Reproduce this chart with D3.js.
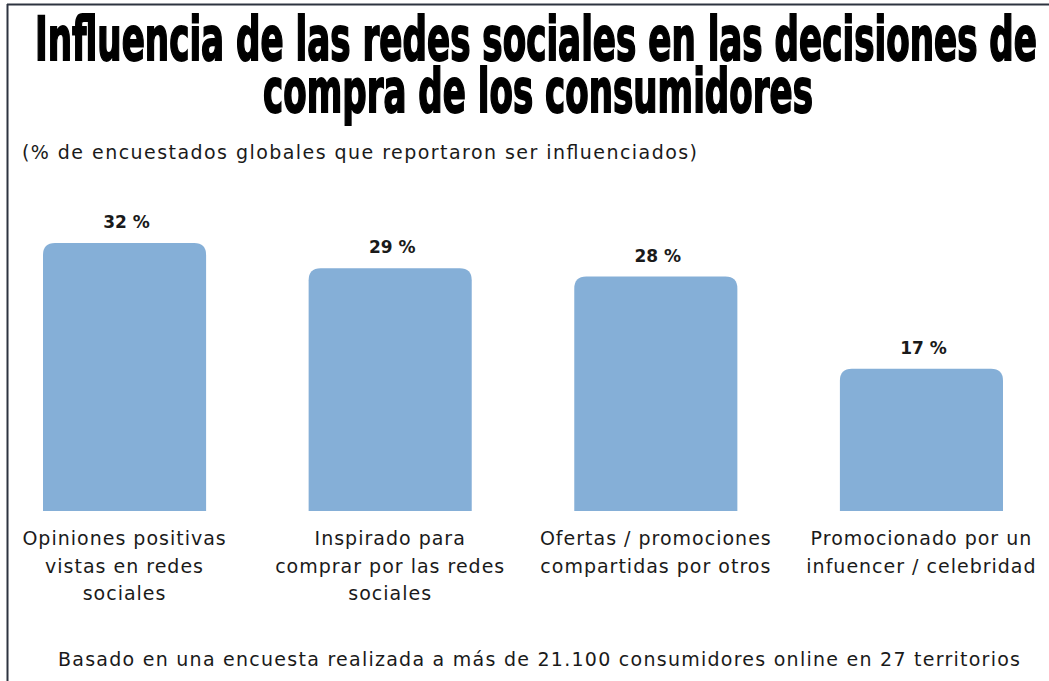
<!DOCTYPE html>
<html>
<head>
<meta charset="utf-8">
<style>
body { margin: 0; background: #fff; }
svg { display: block; }
.title { font-family: "Liberation Sans Narrow", "DejaVu Sans Condensed", sans-serif; font-weight: bold; fill: #000; stroke: #000; stroke-width: 1.4px; }
.txt { font-family: "DejaVu Sans", sans-serif; fill: #1a1a1a; }
</style>
<script src="https://cdn.jsdelivr.net/npm/d3@7/dist/d3.min.js"></script>
</head>
<body>
<div id="chart"></div>
<script>

// data
var categories = ["Opiniones positivas vistas en redes sociales",
                  "Inspirado para comprar por las redes sociales",
                  "Ofertas / promociones compartidas por otros",
                  "Promocionado por un infuencer / celebridad"];
var labelLines = [["Opiniones positivas", "vistas en redes", "sociales"],
                  ["Inspirado para", "comprar por las redes", "sociales"],
                  ["Ofertas / promociones", "compartidas por otros"],
                  ["Promocionado por un", "infuencer / celebridad"]];
var values = [32, 29, 28, 17];

var W = 1049, H = 681;

var svg = d3.select("#chart").append("svg")
    .attr("width", W)
    .attr("height", H);

// frame (top + left edge only visible)
svg.append("line").attr("x1", 7).attr("x2", W).attr("y1", 4.5).attr("y2", 4.5)
    .attr("stroke", "#2e3440").attr("stroke-width", 2);
svg.append("line").attr("x1", 7.5).attr("x2", 7.5).attr("y1", 4).attr("y2", H)
    .attr("stroke", "#2e3440").attr("stroke-width", 2);

// title: narrow bold font, stretched vertically to look like a display face
var titleLines = [
  {t: "Influencia de las redes sociales en las decisiones de", x: 35, y: 60, w: 1002},
  {t: "compra de los consumidores", x: 263, y: 112, w: 550}
];
svg.selectAll(".title")
  .data(titleLines)
  .enter().append("text")
    .attr("class", "title")
    .attr("transform", function(d) { return "translate(" + d.x + "," + d.y + ") scale(1,1.3)"; })
    .attr("font-size", 47)
    .attr("textLength", function(d) { return d.w; })
    .attr("lengthAdjust", "spacingAndGlyphs")
    .text(function(d) { return d.t; });

svg.append("text").attr("class", "txt")
    .attr("x", 22).attr("y", 159)
    .attr("font-size", 19)
    .attr("textLength", 675).attr("lengthAdjust", "spacing")
    .text("(% de encuestados globales que reportaron ser influenciados)");

var x = d3.scaleBand()
    .domain(categories)
    .range([43, 1003])
    .paddingInner(0.386)
    .paddingOuter(0);

var y = d3.scaleLinear()
    .domain([0, 32])
    .range([511, 243]);

var r = 12;
function barPath(d, i) {
  var x0 = x(categories[i]), x1 = x0 + x.bandwidth();
  var y0 = y(0), y1 = y(d);
  return "M" + x0 + "," + y0 +
         "V" + (y1 + r) +
         "Q" + x0 + "," + y1 + " " + (x0 + r) + "," + y1 +
         "H" + (x1 - r) +
         "Q" + x1 + "," + y1 + " " + x1 + "," + (y1 + r) +
         "V" + y0 + "Z";
}

svg.selectAll(".bar")
  .data(values)
  .enter().append("path")
    .attr("class", "bar")
    .attr("d", barPath)
    .attr("fill", "#85afd7");

svg.selectAll(".val")
  .data(values)
  .enter().append("text")
    .attr("class", "txt")
    .attr("x", function(d, i) { return x(categories[i]) + x.bandwidth() / 2 + 2; })
    .attr("y", function(d) { return y(d) - 15; })
    .attr("text-anchor", "middle")
    .attr("font-size", 17)
    .attr("font-weight", "bold")
    .text(function(d) { return d + " %"; });

var lab = svg.selectAll(".lab")
  .data(labelLines)
  .enter().append("text")
    .attr("class", "txt")
    .attr("text-anchor", "middle")
    .attr("font-size", 19)
    .attr("letter-spacing", 1)
    .attr("transform", function(d, i) {
      return "translate(" + (x(categories[i]) + x.bandwidth() / 2) + ",545)";
    });
lab.selectAll("tspan")
  .data(function(d) { return d; })
  .enter().append("tspan")
    .attr("x", 0)
    .attr("y", function(d, j) { return j * 27.5; })
    .text(function(d) { return d; });

svg.append("text").attr("class", "txt")
    .attr("x", 58).attr("y", 666)
    .attr("font-size", 19)
    .attr("textLength", 962).attr("lengthAdjust", "spacing")
    .text("Basado en una encuesta realizada a más de 21.100 consumidores online en 27 territorios");

</script>
</body>
</html>
